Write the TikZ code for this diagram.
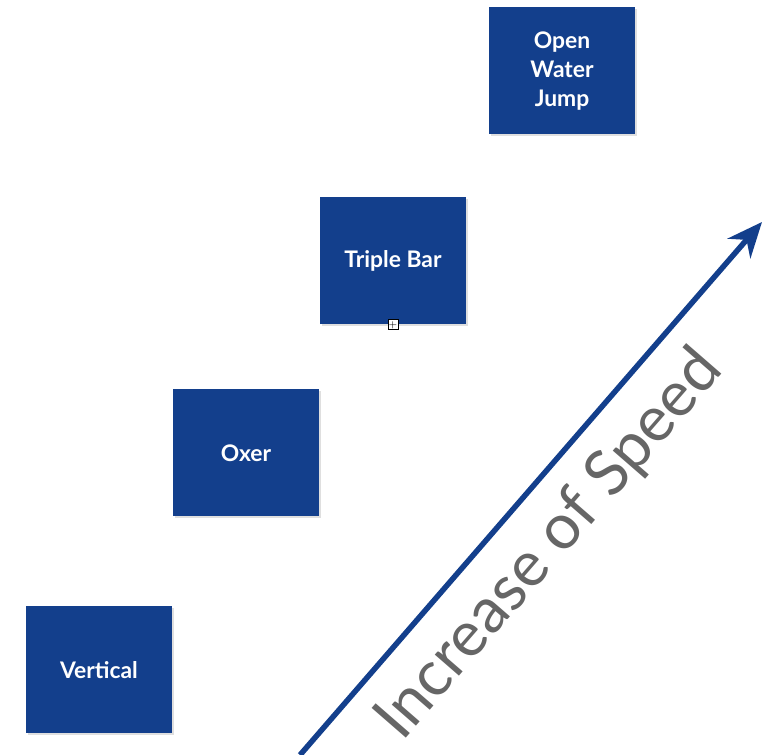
\documentclass[tikz,border=0pt]{standalone}
\usepackage{fontspec}
\setsansfont{Lato}
\usepackage{tikz}
\usetikzlibrary{arrows.meta,shadows}
\definecolor{jumpblue}{HTML}{133F8C}
\definecolor{speedgray}{HTML}{666666}
\tikzstyle{jump} = [rectangle, minimum width=2.92cm, minimum height=2.54cm, fill=jumpblue, text=white, align=center, font=\sffamily\bfseries\fontsize{13}{16.5}\selectfont, drop shadow={opacity=0.25, shadow xshift=0.04cm, shadow yshift=-0.04cm}]
\tikzstyle{speed} = [line width=0.11cm, draw=jumpblue, -{Stealth[length=0.7cm,width=0.6cm]}]

\begin{document}
\begin{tikzpicture}
        \useasboundingbox (0,0) rectangle (15.38,15.10);

        \node (V) [jump] at (1.98,1.70) {Vertical};
        \node (O) [jump] at (4.92,6.04) {Oxer};
        \node (TB) [jump] at (7.86,9.88) {Triple Bar};
        \node (OWJ) [jump] at (11.24,13.68) {Open\\Water\\Jump};

        % anchor mark under triple bar
        \node (M) [rectangle, draw=black, fill=white, line width=0.4pt, minimum size=0.2cm, inner sep=0pt, font=\tiny] at (TB.south) {+};

        \coordinate (S0) at (6.0,0);
        \coordinate (S1) at (15.24,10.66);
        \draw[speed] (S0) -- (S1);

        \node (IS) [rotate=49, text=speedgray, font=\sffamily\fontsize{36}{40}\selectfont] at (11.0,4.2) {Increase of Speed};

    \end{tikzpicture}
\end{document}
